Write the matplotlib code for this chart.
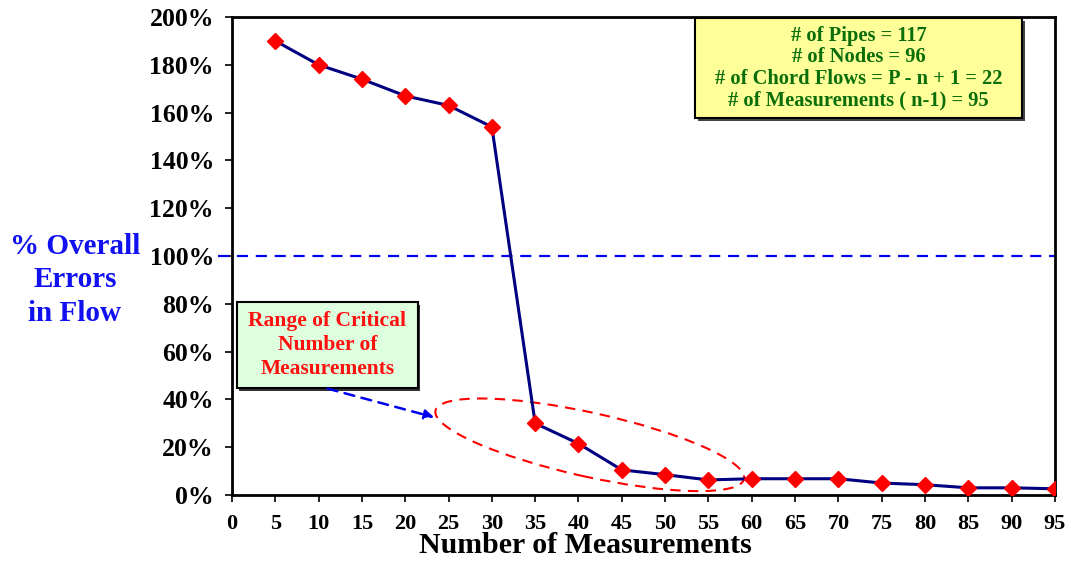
import matplotlib
matplotlib.use("Agg")
import matplotlib.pyplot as plt
from matplotlib.patches import Rectangle, Ellipse, FancyArrowPatch
from matplotlib.transforms import IdentityTransform
from matplotlib.ticker import FuncFormatter

plt.rcParams['font.family'] = ['Liberation Serif', 'DejaVu Serif']
plt.rcParams['font.weight'] = 'bold'

# Number of measurements vs. overall flow error (%)
measurements = [5, 10, 15, 20, 25, 30, 35, 40, 45, 50, 55, 60, 65, 70, 75, 80, 85, 90, 95]
overall_error = [190, 180, 174, 167, 163, 154, 30, 21.5, 10.5, 8.5, 6.3, 6.8, 6.8, 6.8, 5.0, 4.3, 3.0, 3.0, 2.6]
x_ticks = list(range(0, 100, 5))
y_ticks = list(range(0, 201, 20))
info_lines = ["# of Pipes = 117", "# of Nodes = 96",
              "# of Chord Flows = P - n + 1 = 22", "# of Measurements ( n-1) = 95"]
range_lines = ["Range of Critical", "Number of", "Measurements"]
threshold = 100

fig = plt.figure(figsize=(10.71, 5.63), dpi=100)
ax = fig.add_axes([0.2166, 0.1208, 0.7684, 0.849])

ax.plot(measurements, overall_error, color='#000080', lw=2.2, zorder=3,
        marker='D', markersize=8, markerfacecolor='#FF0000', markeredgecolor='#FF0000')

ax.set_xlim(0, 95)
ax.set_ylim(0, 200)
ax.set_xticks(x_ticks)
ax.set_yticks(y_ticks)
ax.yaxis.set_major_formatter(FuncFormatter(lambda v, p: f"{v:.0f}%"))
ax.tick_params(axis='both', direction='out', length=5, width=1.2, colors='black')
ax.tick_params(axis='x', pad=9, labelsize=16)
ax.tick_params(axis='y', pad=8, labelsize=18.5)
for s in ax.spines.values():
    s.set_linewidth(2)
    s.set_color('black')

# 100% reference line, extended slightly past the left spine
ax.plot([-1.6, 95], [threshold, threshold], color='#0000EE', lw=1.6,
        linestyle=(0, (5, 3.5)), clip_on=False, zorder=2)

fig.text(0.547, 0.017, "Number of Measurements", fontsize=21.5, fontweight='bold',
         ha='center', va='baseline')
fig.text(0.07, 0.503, "% Overall\nErrors\nin Flow", color='#1010F0', fontsize=21,
         fontweight='bold', ha='center', va='center', linespacing=1.3)

# Info box (yellow, with drop shadow)
bx0, bx1, by0, by1 = 0.5626, 0.960, 0.789, 0.998
ax.add_patch(Rectangle((bx0 + 0.004, by0 - 0.007), bx1 - bx0, by1 - by0,
                       transform=ax.transAxes, facecolor='#444444', edgecolor='none',
                       zorder=4, clip_on=False))
ax.add_patch(Rectangle((bx0, by0), bx1 - bx0, by1 - by0, transform=ax.transAxes,
                       facecolor='#FFFF99', edgecolor='black', lw=1.5, zorder=5,
                       clip_on=False))
ax.text((bx0 + bx1) / 2, (by0 + by1) / 2, "\n".join(info_lines), transform=ax.transAxes,
        ha='center', va='center', color='#0A6E0A', fontsize=14.8, fontweight='bold',
        linespacing=1.1, zorder=6)

# Green box labelling the critical range
gx0, gx1, gy0, gy1 = 0.0061, 0.226, 0.224, 0.404
ax.add_patch(Rectangle((gx0 + 0.003, gy0 - 0.006), gx1 - gx0, gy1 - gy0,
                       transform=ax.transAxes, facecolor='#333333', edgecolor='none',
                       zorder=4))
ax.add_patch(Rectangle((gx0, gy0), gx1 - gx0, gy1 - gy0, transform=ax.transAxes,
                       facecolor='#DDFFDD', edgecolor='black', lw=1.5, zorder=5))
ax.text((gx0 + gx1) / 2, (gy0 + gy1) / 2, "\n".join(range_lines), transform=ax.transAxes,
        ha='center', va='center', color='#FF1010', fontsize=15.5, fontweight='bold',
        linespacing=1.25, zorder=6)

# Dashed arrow pointing to the critical region
ax.add_patch(FancyArrowPatch((0.113, 0.224), (0.249, 0.161), transform=ax.transAxes,
                             arrowstyle='-|>', mutation_scale=14, color='#0000EE',
                             lw=1.8, linestyle=(0, (4, 3)), zorder=6))

# Dashed ellipse around the critical range
fig.canvas.draw()
cx, cy = ax.transData.transform((41.3, 21.0))
ax.add_patch(Ellipse((cx, cy), width=316, height=64, angle=-12.5,
                     transform=IdentityTransform(), facecolor='none',
                     edgecolor='#FF0000', lw=1.5, linestyle=(0, (5, 3.5)), zorder=2,
                     clip_on=False))

fig.savefig("out.png", dpi=100)
